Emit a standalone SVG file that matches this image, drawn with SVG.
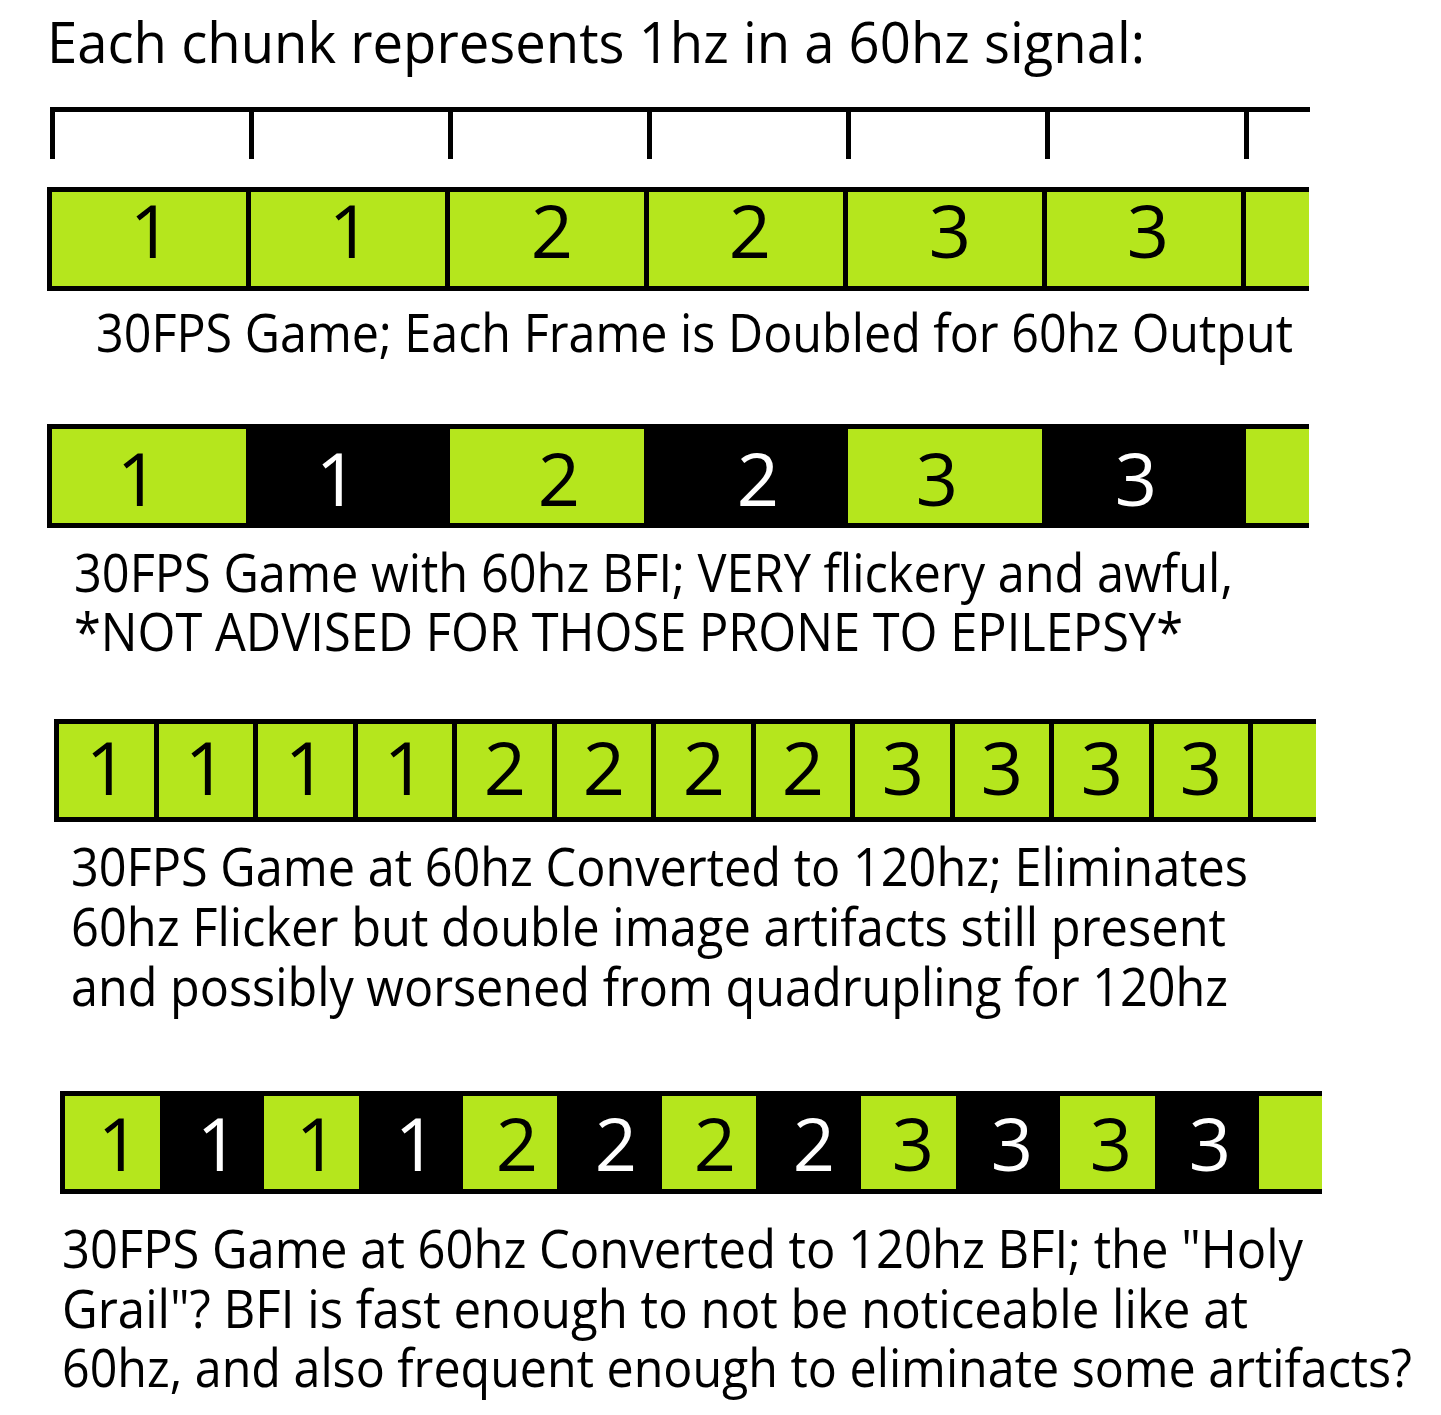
<svg xmlns="http://www.w3.org/2000/svg" width="1441" height="1415" viewBox="0 0 1441 1415">
<style>
.bg{fill:#ffffff}
.k{fill:#000000}
.g{fill:#b5e61d}
.t{font-family:"Open Sans","Noto Sans","Liberation Sans",sans-serif;fill:#000000}
.cap{font-size:53px}
.title{font-size:56px}
.d{font-family:"Open Sans","Noto Sans","Liberation Sans",sans-serif;font-size:74px;text-anchor:middle}
.db{fill:#000000}
.dw{fill:#ffffff}
</style>
<rect class="bg" x="0" y="0" width="1441" height="1415"/>
<g id="title">
<text class="t title" x="47" y="63" textLength="1098" lengthAdjust="spacingAndGlyphs">Each chunk represents 1hz in a 60hz signal:</text>
</g>
<g id="ruler">
<rect class="k" x="50" y="107" width="1260" height="5"/>
<rect class="k" x="50" y="107" width="5" height="52"/>
<rect class="k" x="249" y="107" width="5" height="52"/>
<rect class="k" x="448" y="107" width="5" height="52"/>
<rect class="k" x="647" y="107" width="5" height="52"/>
<rect class="k" x="846" y="107" width="5" height="52"/>
<rect class="k" x="1045" y="107" width="5" height="52"/>
<rect class="k" x="1244" y="107" width="5" height="52"/>
</g>
<g id="row1">
<rect class="g" x="47" y="187" width="1262" height="104"/>
<rect class="k" x="47" y="187" width="1262" height="5"/>
<rect class="k" x="47" y="286" width="1262" height="5"/>
<rect class="k" x="47" y="187" width="5" height="104"/>
<rect class="k" x="246" y="187" width="5" height="104"/>
<rect class="k" x="445" y="187" width="5" height="104"/>
<rect class="k" x="644" y="187" width="5" height="104"/>
<rect class="k" x="843" y="187" width="5" height="104"/>
<rect class="k" x="1042" y="187" width="5" height="104"/>
<rect class="k" x="1241" y="187" width="5" height="104"/>
<text class="d db" x="151" y="258">1</text>
<text class="d db" x="350" y="258">1</text>
<text class="d db" x="552" y="258">2</text>
<text class="d db" x="750" y="258">2</text>
<text class="d db" x="950" y="258">3</text>
<text class="d db" x="1148" y="258">3</text>
</g>
<g id="caption1">
<text class="t cap" x="96" y="352" textLength="1197" lengthAdjust="spacingAndGlyphs">30FPS Game; Each Frame is Doubled for 60hz Output</text>
</g>
<g id="row2">
<rect class="k" x="47" y="424" width="1262" height="104"/>
<rect class="g" x="52" y="429" width="194" height="94"/>
<rect class="g" x="450" y="429" width="194" height="94"/>
<rect class="g" x="848" y="429" width="194" height="94"/>
<rect class="g" x="1246" y="429" width="63" height="94"/>
<text class="d db" x="138" y="506">1</text>
<text class="d dw" x="337" y="506">1</text>
<text class="d db" x="559" y="506">2</text>
<text class="d dw" x="758" y="506">2</text>
<text class="d db" x="937" y="506">3</text>
<text class="d dw" x="1136" y="506">3</text>
</g>
<g id="caption2">
<text class="t cap" x="74" y="592" textLength="1159" lengthAdjust="spacingAndGlyphs">30FPS Game with 60hz BFI; VERY flickery and awful,</text>
<text class="t cap" x="74" y="651" textLength="1109" lengthAdjust="spacingAndGlyphs">*NOT ADVISED FOR THOSE PRONE TO EPILEPSY*</text>
</g>
<g id="row3">
<rect class="k" x="54" y="719" width="1262" height="103"/>
<rect class="g" x="59" y="724" width="95" height="93"/>
<rect class="g" x="159" y="724" width="94" height="93"/>
<rect class="g" x="258" y="724" width="95" height="93"/>
<rect class="g" x="358" y="724" width="94" height="93"/>
<rect class="g" x="457" y="724" width="95" height="93"/>
<rect class="g" x="557" y="724" width="94" height="93"/>
<rect class="g" x="656" y="724" width="95" height="93"/>
<rect class="g" x="756" y="724" width="94" height="93"/>
<rect class="g" x="855" y="724" width="95" height="93"/>
<rect class="g" x="955" y="724" width="94" height="93"/>
<rect class="g" x="1054" y="724" width="95" height="93"/>
<rect class="g" x="1154" y="724" width="94" height="93"/>
<rect class="g" x="1253" y="724" width="63" height="93"/>
<text class="d db" x="107" y="795">1</text>
<text class="d db" x="206" y="795">1</text>
<text class="d db" x="306" y="795">1</text>
<text class="d db" x="405" y="795">1</text>
<text class="d db" x="505" y="795">2</text>
<text class="d db" x="604" y="795">2</text>
<text class="d db" x="704" y="795">2</text>
<text class="d db" x="803" y="795">2</text>
<text class="d db" x="903" y="795">3</text>
<text class="d db" x="1002" y="795">3</text>
<text class="d db" x="1102" y="795">3</text>
<text class="d db" x="1201" y="795">3</text>
</g>
<g id="caption3">
<text class="t cap" x="71" y="886" textLength="1177" lengthAdjust="spacingAndGlyphs">30FPS Game at 60hz Converted to 120hz; Eliminates</text>
<text class="t cap" x="71" y="946" textLength="1155" lengthAdjust="spacingAndGlyphs">60hz Flicker but double image artifacts still present</text>
<text class="t cap" x="71" y="1006" textLength="1157" lengthAdjust="spacingAndGlyphs">and possibly worsened from quadrupling for 120hz</text>
</g>
<g id="row4">
<rect class="k" x="60" y="1091" width="1262" height="103"/>
<rect class="g" x="65" y="1096" width="95" height="93"/>
<rect class="g" x="264" y="1096" width="95" height="93"/>
<rect class="g" x="463" y="1096" width="94" height="93"/>
<rect class="g" x="662" y="1096" width="94" height="93"/>
<rect class="g" x="861" y="1096" width="95" height="93"/>
<rect class="g" x="1060" y="1096" width="95" height="93"/>
<rect class="g" x="1259" y="1096" width="63" height="93"/>
<text class="d db" x="119" y="1171">1</text>
<text class="d dw" x="218" y="1171">1</text>
<text class="d db" x="317" y="1171">1</text>
<text class="d dw" x="416" y="1171">1</text>
<text class="d db" x="517" y="1171">2</text>
<text class="d dw" x="616" y="1171">2</text>
<text class="d db" x="715" y="1171">2</text>
<text class="d dw" x="814" y="1171">2</text>
<text class="d db" x="913" y="1171">3</text>
<text class="d dw" x="1012" y="1171">3</text>
<text class="d db" x="1111" y="1171">3</text>
<text class="d dw" x="1210" y="1171">3</text>
</g>
<g id="caption4">
<text class="t cap" x="62" y="1268" textLength="1241" lengthAdjust="spacingAndGlyphs">30FPS Game at 60hz Converted to 120hz BFI; the "Holy</text>
<text class="t cap" x="62" y="1328" textLength="1186" lengthAdjust="spacingAndGlyphs">Grail"? BFI is fast enough to not be noticeable like at</text>
<text class="t cap" x="62" y="1387" textLength="1350" lengthAdjust="spacingAndGlyphs">60hz, and also frequent enough to eliminate some artifacts?</text>
</g>
</svg>
